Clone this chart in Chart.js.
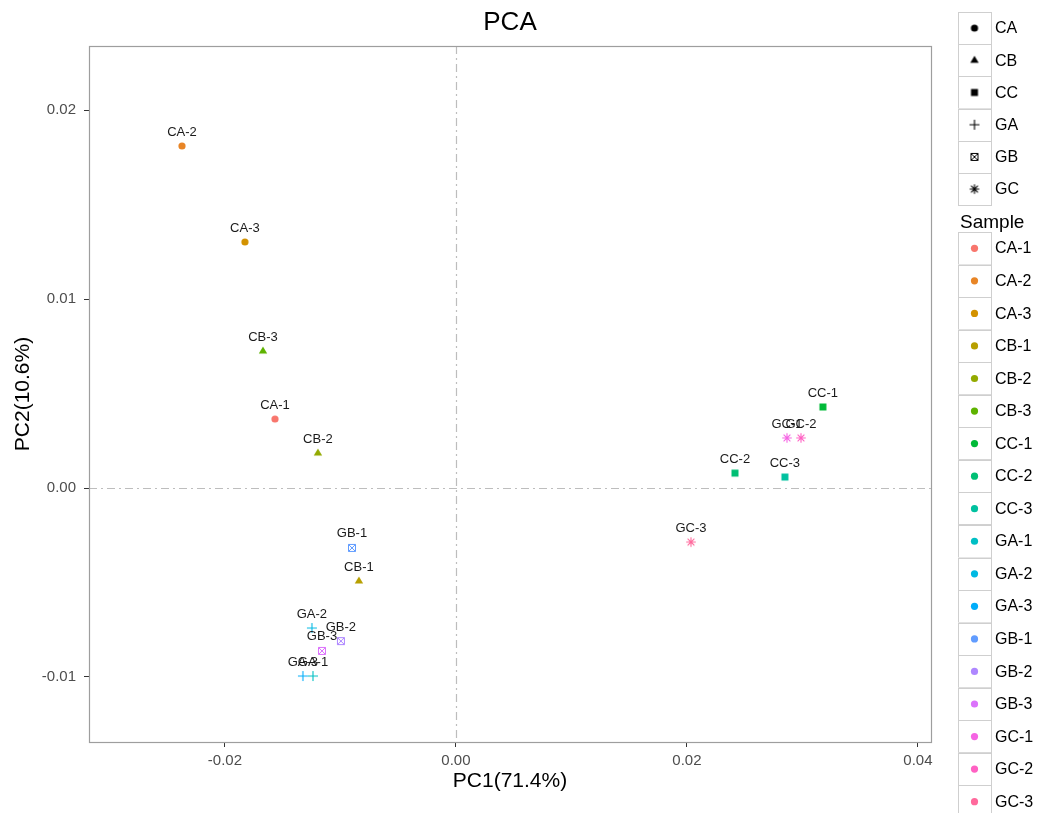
<!DOCTYPE html>
<html>
<head>
<meta charset="utf-8">
<title>PCA</title>
<script src="https://cdn.jsdelivr.net/npm/chart.js@4.4.1/dist/chart.umd.min.js"></script>
<style>
  html, body { margin: 0; padding: 0; background: #fff; }
  #wrap { width: 1040px; height: 813px; }
</style>
</head>
<body>
<div id="wrap"><canvas id="pca" width="1040" height="813"></canvas></div>
<script>
// Data
const samples = ['CA-1', 'CA-2', 'CA-3', 'CB-1', 'CB-2', 'CB-3', 'CC-1', 'CC-2', 'CC-3',
                 'GA-1', 'GA-2', 'GA-3', 'GB-1', 'GB-2', 'GB-3', 'GC-1', 'GC-2', 'GC-3'];
const sampleGroup = ['CA', 'CA', 'CA', 'CB', 'CB', 'CB', 'CC', 'CC', 'CC',
                     'GA', 'GA', 'GA', 'GB', 'GB', 'GB', 'GC', 'GC', 'GC'];
const groups = ['CA', 'CB', 'CC', 'GA', 'GB', 'GC'];
const pc1 = [-0.01567, -0.02372, -0.01827, -0.00840, -0.01195, -0.01671, 0.03177, 0.02416, 0.02848,
             -0.01238, -0.01247, -0.01325, -0.00900, -0.00996, -0.01160, 0.02866, 0.02987, 0.02035];
const pc2 = [0.00365, 0.01810, 0.01302, -0.00492, 0.00185, 0.00725, 0.00429, 0.00079, 0.00058,
             -0.00995, -0.00741, -0.00995, -0.00317, -0.00810, -0.00862, 0.00265, 0.00265, -0.00286];
const xTicks = [-0.02, 0.00, 0.02, 0.04];
const yTicks = [-0.01, 0.00, 0.01, 0.02];

const FONT = '"Liberation Sans", Arial, Helvetica, sans-serif';
Chart.defaults.font.family = FONT;

// ggplot-like hue palette (hcl with c=100, l=65)
function hcl(h, c, l) {
  const hr = h * Math.PI / 180;
  const U = c * Math.cos(hr), V = c * Math.sin(hr);
  const Xn = 95.047, Yn = 100, Zn = 108.883;
  const den = Xn + 15 * Yn + 3 * Zn;
  const un = 4 * Xn / den, vn = 9 * Yn / den;
  const Y = Yn * Math.pow((l + 16) / 116, 3);
  const u = U / (13 * l) + un, v = V / (13 * l) + vn;
  const X = 9 * Y * u / (4 * v);
  const Z = (9 * Y / v - X - 15 * Y) / 3;
  const x = X / 100, y = Y / 100, z = Z / 100;
  const lin = [
    3.240479 * x - 1.537150 * y - 0.498535 * z,
    -0.969256 * x + 1.875992 * y + 0.041556 * z,
    0.055648 * x - 0.204043 * y + 1.057311 * z
  ];
  const rgb = lin.map(t => {
    t = t <= 0.0031308 ? 12.92 * t : 1.055 * Math.pow(t, 1 / 2.4) - 0.055;
    return Math.round(Math.min(1, Math.max(0, t)) * 255);
  });
  return `rgb(${rgb[0]}, ${rgb[1]}, ${rgb[2]})`;
}
const colors = samples.map((s, i) => hcl(15 + i * 360 / samples.length, 100, 65));

// Small canvases used as point styles (ggplot shapes 16, 17, 15, 3, 7, 8)
function makeMarker(group, color) {
  const c = document.createElement('canvas');
  c.width = 14; c.height = 14;
  const g = c.getContext('2d');
  g.fillStyle = color;
  g.strokeStyle = color;
  g.lineWidth = 1.1;
  const m = 7;
  g.beginPath();
  if (group === 'CA') {
    g.arc(m, m, 3.6, 0, Math.PI * 2);
    g.fill();
  } else if (group === 'CB') {
    g.moveTo(m, m - 4.6);
    g.lineTo(m + 4.2, m + 2.6);
    g.lineTo(m - 4.2, m + 2.6);
    g.closePath();
    g.fill();
  } else if (group === 'CC') {
    g.rect(m - 3.5, m - 3.5, 7, 7);
    g.fill();
  } else if (group === 'GA') {
    g.moveTo(m - 5, m); g.lineTo(m + 5, m);
    g.moveTo(m, m - 5); g.lineTo(m, m + 5);
    g.stroke();
  } else if (group === 'GB') {
    g.lineWidth = 1;
    g.rect(m - 3.5, m - 3.5, 7, 7);
    g.moveTo(m - 3.5, m - 3.5); g.lineTo(m + 3.5, m + 3.5);
    g.moveTo(m + 3.5, m - 3.5); g.lineTo(m - 3.5, m + 3.5);
    g.stroke();
  } else if (group === 'GC') {
    for (let k = 0; k < 4; k++) {
      const a = k * Math.PI / 4;
      g.moveTo(m - 4.8 * Math.cos(a), m - 4.8 * Math.sin(a));
      g.lineTo(m + 4.8 * Math.cos(a), m + 4.8 * Math.sin(a));
    }
    g.stroke();
  }
  return c;
}

// Title, panel border, zero lines, point labels and the two legends
const decorPlugin = {
  id: 'decor',
  beforeDatasetsDraw(chart) {
    const ctx = chart.ctx;
    const a = chart.chartArea;
    const x0 = Math.round(chart.scales.x.getPixelForValue(0)) + 0.5;
    const y0 = Math.round(chart.scales.y.getPixelForValue(0)) + 0.5;
    ctx.save();
    ctx.strokeStyle = '#bdbdbd';
    ctx.lineWidth = 1.2;
    ctx.setLineDash([8, 4, 2, 4]);
    ctx.beginPath();
    ctx.moveTo(x0, a.top); ctx.lineTo(x0, a.bottom);
    ctx.moveTo(a.left, y0); ctx.lineTo(a.right, y0);
    ctx.stroke();
    ctx.restore();
  },
  afterDatasetsDraw(chart) {
    const ctx = chart.ctx;
    ctx.save();
    ctx.font = '13px ' + FONT;
    ctx.fillStyle = '#1a1a1a';
    ctx.textAlign = 'center';
    ctx.textBaseline = 'middle';
    chart.data.datasets.forEach((ds, i) => {
      const pt = chart.getDatasetMeta(i).data[0];
      ctx.fillText(ds.label, pt.x, pt.y - 14);
    });
    ctx.restore();
  },
  afterDraw(chart) {
    const ctx = chart.ctx;
    const a = chart.chartArea;
    ctx.save();
    // panel border
    ctx.strokeStyle = '#9e9e9e';
    ctx.lineWidth = 1.2;
    ctx.strokeRect(a.left + 0.5, a.top + 0.5, a.right - a.left, a.bottom - a.top);

    // title
    ctx.fillStyle = '#000';
    ctx.font = '26px ' + FONT;
    ctx.textAlign = 'center';
    ctx.textBaseline = 'middle';
    ctx.fillText('PCA', (a.left + a.right) / 2, 23);

    // shape legend
    const boxX = 958, boxW = 33;
    ctx.textAlign = 'left';
    ctx.font = '16px ' + FONT;
    ctx.strokeStyle = '#cfcfcf';
    ctx.lineWidth = 1;
    groups.forEach((g, i) => {
      const top = 12 + i * 32.2;
      ctx.fillStyle = '#fff';
      ctx.fillRect(boxX, top, boxW, 32.2);
      ctx.strokeRect(boxX + 0.5, Math.round(top) + 0.5, boxW, 32);
      const mk = makeMarker(g, '#000');
      ctx.drawImage(mk, boxX + boxW / 2 - 7, top + 16.1 - 7);
      ctx.fillStyle = '#000';
      ctx.fillText(g, 995, top + 17);
    });

    // sample legend
    ctx.font = '19px ' + FONT;
    ctx.fillText('Sample', 960, 223);
    ctx.font = '16px ' + FONT;
    samples.forEach((s, i) => {
      const top = 232 + i * 32.55;
      ctx.fillStyle = '#fff';
      ctx.fillRect(boxX, top, boxW, 32.55);
      ctx.strokeRect(boxX + 0.5, Math.round(top) + 0.5, boxW, 32);
      ctx.fillStyle = colors[i];
      ctx.beginPath();
      ctx.arc(boxX + boxW / 2, top + 16.3, 3.6, 0, Math.PI * 2);
      ctx.fill();
      ctx.fillStyle = '#000';
      ctx.fillText(s, 995, top + 17);
    });
    ctx.restore();
  }
};

const datasets = samples.map((s, i) => ({
  label: s,
  data: [{ x: pc1[i], y: pc2[i] }],
  pointStyle: makeMarker(sampleGroup[i], colors[i]),
  pointRadius: 5,
  backgroundColor: colors[i],
  borderColor: colors[i]
}));

new Chart(document.getElementById('pca'), {
  type: 'scatter',
  data: { datasets },
  options: {
    responsive: false,
    animation: false,
    layout: { padding: { left: 0, top: 46, right: 109, bottom: 0 } },
    plugins: {
      legend: { display: false },
      tooltip: { enabled: false }
    },
    scales: {
      x: {
        type: 'linear',
        min: -0.03177,
        max: 0.04113,
        afterFit: s => { s.height = 71; },
        afterBuildTicks: s => { s.ticks = xTicks.map(v => ({ value: v })); },
        border: { display: false },
        grid: { drawOnChartArea: false, drawTicks: true, tickLength: 5, color: '#333' },
        ticks: {
          padding: 5,
          color: '#4d4d4d',
          font: { size: 15 },
          callback: v => v.toFixed(2)
        },
        title: {
          display: true,
          text: 'PC1(71.4%)',
          color: '#000',
          font: { size: 21 },
          padding: { top: 0, bottom: 19 }
        }
      },
      y: {
        type: 'linear',
        min: -0.01344,
        max: 0.02339,
        afterFit: s => { s.width = 89; },
        afterBuildTicks: s => { s.ticks = yTicks.map(v => ({ value: v })); },
        border: { display: false },
        grid: { drawOnChartArea: false, drawTicks: true, tickLength: 5, color: '#333' },
        ticks: {
          padding: 8,
          color: '#4d4d4d',
          font: { size: 15 },
          callback: v => v.toFixed(2)
        },
        title: {
          display: true,
          text: 'PC2(10.6%)',
          color: '#000',
          font: { size: 21 },
          padding: { top: 11, bottom: 0 }
        }
      }
    }
  },
  plugins: [decorPlugin]
});
</script>
</body>
</html>
